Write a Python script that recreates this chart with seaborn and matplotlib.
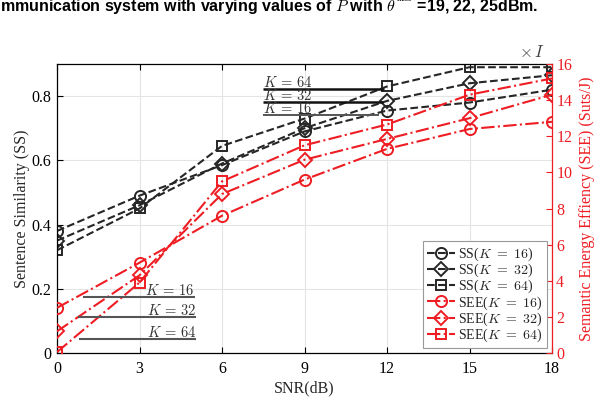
import matplotlib
matplotlib.use("Agg")
import matplotlib.pyplot as plt
import seaborn as sns

# SNR sweep (dB)
snr = [0, 3, 6, 9, 12, 15, 18]

# Sentence similarity for each codebook size K
ss_k16 = [0.38, 0.49, 0.585, 0.69, 0.755, 0.78, 0.82]
ss_k32 = [0.35, 0.46, 0.59, 0.70, 0.785, 0.84, 0.865]
ss_k64 = [0.32, 0.45, 0.645, 0.73, 0.83, 0.89, 0.89]

# Semantic energy efficiency (x I) for each K
see_k16 = [2.5, 5.0, 7.6, 9.6, 11.3, 12.4, 12.8]
see_k32 = [1.2, 4.3, 8.8, 10.7, 11.85, 13.0, 14.3]
see_k64 = [0.05, 3.9, 9.5, 11.5, 12.65, 14.3, 15.2]

k_values = [16, 32, 64]
x_ticks = [0, 3, 6, 9, 12, 15, 18]
ss_ticks = [0, 0.2, 0.4, 0.6, 0.8]
ss_tick_labels = ["0", "0.2", "0.4", "0.6", "0.8"]
see_ticks = [0, 2, 4, 6, 8, 10, 12, 14, 16]

BLACK = "#262626"
RED = "#EE1D23"

sns.set_style("ticks")
plt.rcParams["font.family"] = ["Liberation Serif", "DejaVu Serif"]
plt.rcParams["mathtext.fontset"] = "cm"

fig = plt.figure(figsize=(6.01, 3.99), dpi=100)
ax = fig.add_axes([57 / 601, 1 - 353 / 399, (552 - 57) / 601, (353 - 64) / 399])
ax2 = ax.twinx()

line_kw = dict(linewidth=1.5, markeredgewidth=1.4, markerfacecolor="none")

ss_series = [ss_k16, ss_k32, ss_k64]
see_series = [see_k16, see_k32, see_k64]
markers = ["o", "D", "s"]
msizes = [8, 7, 6.5]

for k, vals, m, ms in zip(k_values, ss_series, markers, msizes):
    sns.lineplot(x=snr, y=vals, ax=ax, color=BLACK, marker=m, linestyle="--",
                 markersize=ms, markeredgecolor=BLACK,
                 label=rf"SS($K\ =\ {k}$)", **line_kw)

for k, vals, m, ms in zip(k_values, see_series, markers, msizes):
    sns.lineplot(x=snr, y=vals, ax=ax2, color=RED, marker=m, linestyle="-.",
                 markersize=ms, markeredgecolor=RED,
                 label=rf"SEE($K\ =\ {k}$)", **line_kw)

# Axes ranges and ticks
ax.set_xlim(0, 18)
ax.set_ylim(0, 0.9)
ax2.set_ylim(0, 16)
ax.set_xticks(x_ticks)
ax.set_yticks(ss_ticks)
ax.set_yticklabels(ss_tick_labels)
ax2.set_yticks(see_ticks)

ax.grid(True, color="#e4e4e4", linewidth=0.8)
ax.set_axisbelow(True)

ax.tick_params(axis="x", direction="in", length=4, width=0.8,
               labelsize=11.5, colors="black", top=True, pad=6)
ax.tick_params(axis="y", direction="in", length=4, width=0.8,
               labelsize=11.5, colors="black", right=False, pad=4)
ax2.tick_params(axis="y", direction="in", length=4, width=0.8,
                labelsize=11.5, colors=RED, pad=3)

for s in ["left", "bottom", "top"]:
    ax.spines[s].set_color("black")
    ax.spines[s].set_linewidth(0.9)
ax.spines["right"].set_visible(False)
for s in ["left", "bottom", "top"]:
    ax2.spines[s].set_visible(False)
ax2.spines["right"].set_color(RED)
ax2.spines["right"].set_linewidth(0.9)

ax.set_xlabel("SNR(dB)", fontsize=11.5, labelpad=2)
ax.set_ylabel("Sentence Similarity (SS)", fontsize=11.5, labelpad=1)
ax2.set_ylabel("Semantic Energy Effiency (SEE) (Suts/J)", fontsize=11.5,
               color=RED, labelpad=5)

# Multiplier above the right axis
ax2.text(0.985, 1.01, r"$\times\,I$", transform=ax2.transAxes, ha="right",
         va="bottom", fontsize=12, color="#404040")

# K labels with leader lines
upper_notes = [  # (label, x_start, x_end, y on SS axis, colour, width)
    ("64", 7.5, 11.9, 0.823, "#111111", 1.8),
    ("32", 7.5, 11.85, 0.782, "#111111", 1.8),
    ("16", 7.5, 11.7, 0.742, "#555555", 1.4),
]
for k, x0, x1, y, c, w in upper_notes:
    ax.plot([x0, x1], [y, y], color=c, linewidth=w, solid_capstyle="butt")
    ax.annotate(rf"$K\,=\,{k}$", xy=(x0, y), xytext=(0, 1.2),
                textcoords="offset points", ha="left", va="baseline",
                fontsize=10.5, color="#333333")

lower_notes = [  # (label, x_start, x_end, y on SEE axis)
    ("16", 0.95, 5.0, 3.1),
    ("32", 0.75, 5.05, 2.0),
    ("64", 0.8, 5.05, 0.78),
]
for k, x0, x1, y in lower_notes:
    ax2.plot([x0, x1], [y, y], color="#555555", linewidth=1.5,
             solid_capstyle="butt")
    ax2.annotate(rf"$K\,=\,{k}$", xy=(x1, y), xytext=(0, 1.2),
                 textcoords="offset points", ha="right", va="baseline",
                 fontsize=10.5, color="#333333")

# Combined legend
h1, l1 = ax.get_legend_handles_labels()
h2, l2 = ax2.get_legend_handles_labels()
ax.get_legend().remove()
ax2.get_legend().remove()
leg = ax2.legend(h1 + h2, l1 + l2, loc="lower right", fontsize=10,
                 frameon=True, fancybox=False, edgecolor="#999999",
                 framealpha=1, labelspacing=-0.08, handlelength=2.0,
                 handletextpad=0.25, borderpad=0.3, borderaxespad=0.35)
leg.get_frame().set_linewidth(0.8)

# Caption fragment along the top edge
fig.text(0.0, 1 - 11 / 399,
         r"mmunication system with varying values of $P$ with $\theta^{{}^{\max}}$ =19, 22, 25dBm.",
         ha="left", va="baseline", fontsize=11.5, fontweight="bold",
         family="Liberation Sans", color="black")

fig.savefig("out.png", dpi=100)
